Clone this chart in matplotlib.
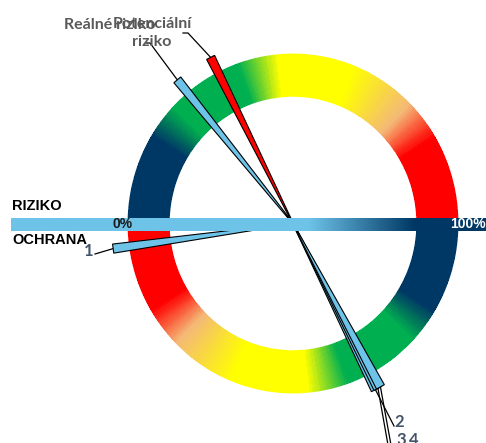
import numpy as np
import matplotlib
matplotlib.use("Agg")
import matplotlib.pyplot as plt
from matplotlib.patches import Polygon
from matplotlib.colors import LinearSegmentedColormap, to_rgb

# ---- data ----
risk_labels = ["Reálné riziko", "Potenciální\nriziko"]
risk_values = [0.28, 0.35]            # fraction of RIZIKO scale (top half)
risk_colors = ["#6EC3E8", "#FF0000"]
protect_labels = ["1", "2", "3", "4"]
protect_values = [0.043, 0.65, 0.655, 0.66]   # fraction of OCHRANA scale (bottom half)
scale_labels = ["0%", "100%"]
side_labels = ["RIZIKO", "OCHRANA"]

# ---- colour scale of the ring (fraction -> colour) ----
stops = [(0.00, "#003865"), (0.17, "#003865"), (0.24, "#00B050"), (0.39, "#00B050"),
         (0.47, "#FFFF00"), (0.62, "#FFFF00"), (0.75, "#F4B976"), (0.83, "#FF0000"),
         (1.00, "#FF0000")]
ring_cmap = LinearSegmentedColormap.from_list("ring", [(p, to_rgb(c)) for p, c in stops])
bar_cmap = LinearSegmentedColormap.from_list(
    "bar", [(0, to_rgb("#6EC3E8")), (0.62, to_rgb("#6EC3E8")), (0.84, to_rgb("#003865")),
            (1, to_rgb("#003865"))])

W, H = 486, 443
fig = plt.figure(figsize=(W / 100, H / 100), dpi=100)
ax = fig.add_axes([0, 0, 1, 1])
cx, cy, rx, ry = 293, 223.5, 165, 169.5

R_OUT, R_IN = 1.0, 0.75
th = np.radians(np.linspace(0, 360, 1441))
rr = np.array([R_IN, R_OUT])
TH, RR = np.meshgrid(th, rr)
X, Y = RR * np.cos(TH), RR * np.sin(TH)
mid = np.degrees((th[:-1] + th[1:]) / 2)
tval = np.where(mid <= 180, (180 - mid) / 180, (360 - mid) / 180)
ax.pcolormesh(X, Y, tval.reshape(1, -1), cmap=ring_cmap, vmin=0, vmax=1,
              shading="flat", antialiased=False, linewidth=0, zorder=1)
# smooth the ring edges
tt = np.linspace(0, 2 * np.pi, 1441)
for r in (R_IN, R_OUT):
    seg_x, seg_y = r * np.cos(tt), r * np.sin(tt)
    for i in range(0, 1440, 4):
        m = np.degrees(tt[i] + 2 * (tt[1] - tt[0]))
        tv = (180 - m) / 180 if m <= 180 else (360 - m) / 180
        ax.plot(seg_x[i:i + 5], seg_y[i:i + 5], color=ring_cmap(tv), lw=0.6,
                solid_capstyle="butt", zorder=1.1)

# ---- needles ----
L = 1.10
hw = 0.027

def needle(angle_deg, color, z):
    a = np.radians(angle_deg)
    d = np.array([np.cos(a), np.sin(a)])
    n = np.array([-np.sin(a), np.cos(a)])
    tip = d * L
    pts = [n * 0.002, tip + n * hw, tip - n * hw, -n * 0.002]
    ax.add_patch(Polygon(pts, closed=True, facecolor=color, edgecolor="black",
                         lw=0.8, zorder=z))
    return tip

risk_tips = []
for v, c in zip(risk_values, risk_colors):
    risk_tips.append(needle(180 - 180 * v, c, 3))
prot_tips = []
for v in protect_values:
    prot_tips.append(needle(180 + 180 * v, "#6EC3E8", 3))

# ---- horizontal bar ----
x0, x1 = (11 - cx) / rx, (W + 5 - cx) / rx
yb0, yb1 = (cy - 231) / ry, (cy - 218) / ry
grad = np.linspace(0, 1, 512).reshape(1, -1)
ax.imshow(grad, cmap=bar_cmap, extent=[x0, x1, yb0, yb1], aspect="auto", zorder=4,
          interpolation="bicubic")
ax.set_xlim(-cx / rx, (W - cx) / rx)
ax.set_ylim(-(H - cy) / ry, cy / ry)
ax.axis("off")

def P(px, py):
    return ((px - cx) / rx, (cy - py) / ry)

ax.text(*P(123, 224.5), scale_labels[0], ha="center", va="center", fontsize=10,
        fontweight="bold", color="#1A1A1A", family="Liberation Sans", zorder=5)
ax.text(*P(486, 224.5), scale_labels[1], ha="right", va="center", fontsize=10,
        fontweight="bold", color="white", family="Liberation Sans", zorder=5)
ax.text(*P(12, 205.5), side_labels[0], ha="left", va="center", fontsize=10.5,
        fontweight="bold", color="black", family="Liberation Sans", zorder=5)
ax.text(*P(12, 240.5), side_labels[1], ha="left", va="center", fontsize=10.5,
        fontweight="bold", color="black", family="Liberation Sans", zorder=5)

# ---- callouts for risk needles ----
grey = "#595959"
lab_fs = 11.5
t = risk_tips[0]
e = P(150, 43)
ax.plot([t[0], e[0], P(146, 43)[0]], [t[1], e[1], e[1]], color="black", lw=0.9, zorder=2)
ax.text(*P(110, 25), risk_labels[0], ha="center", va="center", fontsize=lab_fs,
        fontweight="bold", color=grey, family="Lato", zorder=6)
t = risk_tips[1]
e = P(188, 33)
ax.plot([t[0], e[0], P(183, 33)[0]], [t[1], e[1], e[1]], color="black", lw=0.9, zorder=2)
ax.text(*P(152, 33), risk_labels[1], ha="center", va="center", fontsize=lab_fs,
        fontweight="bold", color=grey, family="Lato", linespacing=1.3, zorder=6)

# ---- callouts for protection needles ----
num_col = "#44546A"
t = prot_tips[0]
ax.plot([t[0], P(95, 254)[0]], [t[1], P(95, 254)[1]], color="black", lw=0.9, zorder=2)
ax.text(*P(89, 251), protect_labels[0], ha="center", va="center", fontsize=12,
        fontweight="bold", color=num_col, family="Lato", zorder=6)
ends = [P(394, 426), P(388, 445), P(391, 445)]
pos = [P(399, 422), P(401, 440), P(414, 440)]
for tp, en, ps, lb in zip(prot_tips[1:], ends, pos, protect_labels[1:]):
    ax.plot([tp[0], en[0]], [tp[1], en[1]], color="black", lw=0.9, zorder=2)
    ax.text(*ps, lb, ha="center", va="center", fontsize=12, fontweight="bold",
            color=num_col, family="Lato", zorder=6)

fig.savefig("out.png", dpi=100)
